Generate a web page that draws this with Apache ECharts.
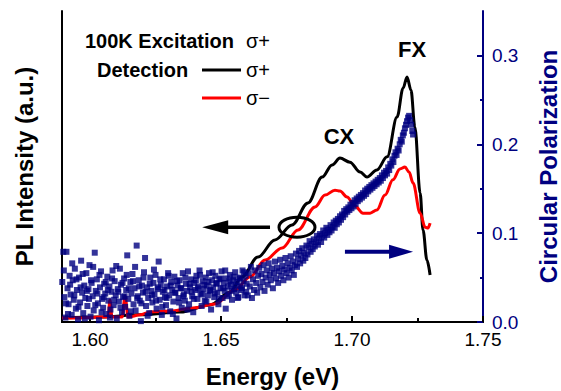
<!DOCTYPE html>
<html><head><meta charset="utf-8">
<script src="https://cdn.jsdelivr.net/npm/echarts@6/dist/echarts.min.js"></script>
<style>html,body{margin:0;padding:0;background:#fff}#c{width:561px;height:391px}</style>
</head><body><div id="c"></div>
<script>
// ---- data ----
const energyTicks = [1.60, 1.65, 1.70, 1.75];
const energyMinorTicks = [1.625, 1.675, 1.725];
const polTicks = [0.0, 0.1, 0.2, 0.3];
const polMinorTicks = [0.05, 0.15, 0.25];

const plusEnergy = [1.5893,1.6038,1.6191,1.6344,1.6458,1.6534,1.6580,1.6641,1.6706,1.6771,1.6832,1.6886,1.6924,1.6954,1.6992,1.7031,1.7057,1.7095,1.7134,1.7172,1.7195,1.7210,1.7225,1.7240,1.7260,1.7271,1.7286,1.7298];
const plusPL = [0.013,0.016,0.023,0.032,0.055,0.096,0.145,0.209,0.264,0.312,0.383,0.466,0.505,0.527,0.514,0.482,0.466,0.489,0.531,0.659,0.752,0.788,0.746,0.627,0.415,0.296,0.199,0.151];

const minusEnergy = [1.5893,1.5962,1.6038,1.6069,1.6076,1.6084,1.6122,1.6134,1.6145,1.6191,1.6229,1.6305,1.6393,1.6477,1.6553,1.6611,1.6668,1.6733,1.6794,1.6859,1.6897,1.6935,1.6954,1.6981,1.7011,1.7042,1.7069,1.7095,1.7126,1.7156,1.7183,1.7202,1.7218,1.7233,1.7260,1.7279,1.7290,1.7298];
const minusPL = [0.013,0.013,0.016,0.016,0.071,0.016,0.016,0.084,0.016,0.023,0.032,0.035,0.045,0.058,0.103,0.145,0.199,0.238,0.296,0.370,0.408,0.424,0.421,0.402,0.373,0.350,0.350,0.360,0.408,0.457,0.492,0.498,0.482,0.447,0.350,0.305,0.302,0.318];

const polEnergy = [
1.5894,1.5898,1.5902,1.5906,1.5910,1.5914,1.5918,1.5922,1.5926,1.5930,
1.5934,1.5938,1.5942,1.5946,1.5950,1.5954,1.5958,1.5962,1.5966,1.5970,
1.5974,1.5978,1.5982,1.5986,1.5990,1.5994,1.5998,1.6002,1.6006,1.6010,
1.6014,1.6018,1.6022,1.6026,1.6030,1.6034,1.6038,1.6042,1.6046,1.6050,
1.6054,1.6058,1.6062,1.6066,1.6070,1.6074,1.6078,1.6082,1.6086,1.6090,
1.6094,1.6098,1.6102,1.6106,1.6110,1.6114,1.6118,1.6122,1.6126,1.6130,
1.6134,1.6138,1.6142,1.6146,1.6150,1.6154,1.6158,1.6162,1.6166,1.6170,
1.6174,1.6178,1.6182,1.6186,1.6190,1.6194,1.6198,1.6202,1.6206,1.6210,
1.6214,1.6218,1.6222,1.6226,1.6230,1.6234,1.6238,1.6242,1.6246,1.6250,
1.6254,1.6258,1.6262,1.6266,1.6270,1.6274,1.6278,1.6282,1.6286,1.6290,
1.6294,1.6298,1.6302,1.6306,1.6310,1.6314,1.6318,1.6322,1.6326,1.6330,
1.6334,1.6338,1.6342,1.6346,1.6350,1.6354,1.6358,1.6362,1.6366,1.6370,
1.6374,1.6378,1.6382,1.6386,1.6390,1.6394,1.6398,1.6402,1.6406,1.6410,
1.6414,1.6418,1.6422,1.6426,1.6430,1.6434,1.6438,1.6442,1.6446,1.6450,
1.6454,1.6458,1.6462,1.6466,1.6470,1.6474,1.6478,1.6482,1.6486,1.6490,
1.6494,1.6498,1.6502,1.6506,1.6510,1.6514,1.6518,1.6522,1.6526,1.6530,
1.6534,1.6538,1.6542,1.6546,1.6550,1.6554,1.6558,1.6562,1.6566,1.6570,
1.6574,1.6578,1.6582,1.6586,1.6590,1.6594,1.6598,
1.5900,1.5908,1.5916,1.5924,1.5932,1.5940,1.5948,1.5956,1.5964,1.5972,
1.5980,1.5988,1.5996,1.6004,1.6012,1.6020,1.6028,1.6036,1.6044,1.6052,
1.6060,1.6068,1.6076,1.6084,1.6092,1.6100,1.6108,1.6116,1.6124,1.6132,
1.6140,1.6148,1.6156,1.6164,1.6172,1.6180,1.6188,1.6196,1.6204,1.6212,
1.6220,1.6228,1.6236,1.6244,1.6252,1.6260,1.6268,1.6276,1.6284,1.6292,
1.6300,1.6308,1.6316,1.6324,1.6332,1.6340,1.6348,1.6356,1.6364,1.6372,
1.6380,1.6388,1.6396,1.6404,1.6412,1.6420,1.6428,1.6436,1.6444,1.6452,
1.6460,1.6468,1.6476,1.6484,1.6492,1.6500,1.6508,1.6516,1.6524,1.6532,
1.6540,1.6548,1.6556,1.6564,1.6572,1.6580,1.6588,1.6596,
1.6602,1.6606,1.6610,1.6614,1.6618,1.6622,1.6626,1.6630,1.6634,1.6638,
1.6642,1.6646,1.6650,1.6654,1.6658,1.6662,1.6666,1.6670,1.6674,1.6678,
1.6682,1.6686,1.6690,1.6694,1.6698,1.6702,1.6706,1.6710,1.6714,1.6718,
1.6722,1.6726,1.6730,1.6734,1.6738,1.6742,1.6746,1.6750,1.6754,1.6758,
1.6762,1.6766,1.6770,1.6774,1.6778,1.6782,1.6786,1.6790,1.6794,1.6798,
1.6802,1.6806,1.6810,1.6814,1.6818,1.6822,1.6826,1.6830,1.6834,1.6838,
1.6842,1.6846,1.6850,1.6854,1.6858,1.6862,1.6866,1.6870,1.6874,1.6878,
1.6882,1.6886,1.6890,1.6894,1.6898,1.6902,1.6906,1.6910,1.6914,1.6918,
1.6922,1.6926,1.6930,1.6934,1.6938,1.6942,1.6946,1.6950,1.6954,1.6958,
1.6962,1.6966,1.6970,1.6974,1.6978,1.6982,1.6986,1.6990,1.6994,1.6998,
1.7002,1.7006,1.7010,1.7014,1.7018,1.7022,1.7026,1.7030,1.7034,1.7038,
1.7042,1.7046,1.7050,1.7054,1.7058,1.7062,1.7066,1.7070,1.7074,1.7078,
1.7082,1.7086,1.7090,1.7094,1.7098,1.7102,1.7106,1.7110,1.7114,1.7118,
1.7122,1.7126,1.7130,1.7134,1.7138,1.7142,1.7146,1.7150,1.7154,1.7158,
1.7162,1.7166,1.7170,1.7174,1.7178,1.7182,1.7186,1.7190,1.7194,1.7198,
1.7202,1.7206,1.7210,1.7214,1.7218,1.7222,1.7226,1.7230,1.7233];
const polValue = [
.045,.079,.028,.005,.079,.038,.020,.052,.031,.008,
.047,.025,.060,.015,.036,.003,.050,.022,.069,.033,
.010,.041,.027,.055,.018,.037,.064,.006,.044,.029,
.013,.078,.035,.048,.021,.002,.039,.057,.026,.016,
.043,.032,.009,.051,.024,.040,.014,.034,.058,.019,
.046,.030,.004,.037,.023,.060,.042,.011,.028,.049,
.017,.036,.075,.026,.007,.045,.032,.054,.020,.038,
.013,.086,.029,.047,.024,.001,.041,.033,.056,.072,
.018,.039,.027,.010,.050,.035,.022,.044,.031,.053,
.015,.037,.068,.025,.042,.008,.034,.048,.028,.019,
.040,.055,.030,.012,.045,.036,.023,.051,.033,.004,
.041,.027,.047,.038,.016,.055,.031,.024,.043,.035,
.057,.020,.039,.048,.029,.011,.044,.036,.052,.026,
.040,.058,.032,.018,.046,.037,.024,.050,.041,.030,
.055,.035,.014,.047,.039,.028,.052,.043,.033,.020,
.048,.038,.057,.027,.044,.035,.015,.049,.040,.031,
.053,.042,.025,.047,.037,.056,.033,.045,.028,.050,
.040,.036,.058,.046,.030,.052,.043,
.058,.021,.009,.042,.066,.030,.048,.017,.039,.054,
.004,.035,.026,.047,.062,.019,.032,.053,.011,.028,
.045,.036,.005,.049,.025,.063,.034,.016,.044,.029,
.053,.038,.012,.046,.062,.027,.040,.021,.050,.034,
.007,.043,.030,.059,.024,.039,.048,.017,.036,.027,
.052,.041,.009,.033,.046,.022,.038,.029,.050,.014,
.043,.034,.026,.047,.038,.053,.031,.042,.023,.045,
.036,.056,.032,.044,.026,.049,.038,.058,.029,.046,
.035,.051,.041,.027,.049,.038,.056,.034,
.030,.055,.040,.062,.027,.048,.036,.058,.044,.033,
.052,.061,.039,.054,.045,.064,.035,.050,.058,.042,
.066,.053,.047,.060,.038,.055,.068,.049,.061,.044,
.057,.070,.052,.063,.047,.059,.072,.055,.066,.050,
.061,.074,.058,.068,.053,.064,.077,.062,.071,.080,
.066,.075,.083,.069,.078,.072,.086,.076,.084,.091,
.079,.088,.082,.093,.085,.090,.097,.087,.094,.099,
.090,.097,.103,.095,.100,.106,.098,.104,.101,.109,
.103,.107,.112,.106,.114,.110,.116,.112,.119,.115,
.121,.118,.125,.121,.127,.124,.129,.126,.132,.128,
.134,.130,.137,.133,.139,.136,.141,.138,.143,.140,
.145,.142,.148,.144,.150,.147,.152,.149,.154,.151,
.156,.153,.158,.155,.160,.157,.162,.159,.165,.162,
.168,.165,.170,.167,.174,.171,.178,.176,.183,.180,
.187,.191,.188,.195,.193,.200,.205,.203,.210,.213,
.218,.222,.226,.230,.232,.227,.222,.215,.211];

// ---- chart ----
const FONT = 'Liberation Sans, Arial, sans-serif';
const NAVY = '#000080';
const chart = echarts.init(document.getElementById('c'), null, {renderer: 'svg'});
const zip = (a, b) => a.map((v, i) => [v, b[i]]);
const XMIN = 1.5893, XMAX = 1.75;

chart.setOption({
  animation: false,
  backgroundColor: '#fff',
  grid: {left: 62, right: 78, top: 11, bottom: 69, containLabel: false, outerBoundsMode: 'none'},
  xAxis: [
    {type: 'value', position: 'bottom', min: XMIN, max: XMAX,
     axisLine: {show: true, lineStyle: {color: '#000', width: 2}},
     axisTick: {show: true, inside: true, length: 6, customValues: energyTicks, lineStyle: {color: '#000', width: 2}},
     axisLabel: {show: true, customValues: energyTicks, formatter: v => v.toFixed(2), color: '#000', fontSize: 19, fontFamily: FONT, margin: 8},
     splitLine: {show: false},
     name: 'Energy (eV)', nameLocation: 'middle', nameGap: 42,
     nameTextStyle: {fontSize: 24, fontWeight: 'bold', color: '#000', fontFamily: FONT}},
    {type: 'value', position: 'bottom', min: XMIN, max: XMAX,
     axisLine: {show: false},
     axisTick: {show: true, inside: true, length: 4, customValues: energyMinorTicks, lineStyle: {color: '#000', width: 2}},
     axisLabel: {show: false}, splitLine: {show: false}},
    {type: 'value', position: 'top', min: XMIN, max: XMAX,
     axisLine: {show: true, lineStyle: {color: '#000', width: 2}},
     axisTick: {show: false}, axisLabel: {show: false}, splitLine: {show: false}}
  ],
  yAxis: [
    {type: 'value', position: 'left', min: 0, max: 1,
     axisLine: {show: true, lineStyle: {color: '#000', width: 2}},
     axisTick: {show: false}, axisLabel: {show: false}, splitLine: {show: false},
     name: 'PL Intensity (a.u.)', nameLocation: 'middle', nameGap: 26, nameRotate: 90,
     nameTextStyle: {fontSize: 24, fontWeight: 'bold', color: '#000', fontFamily: FONT}},
    {type: 'value', position: 'right', min: 0, max: 0.35,
     axisLine: {show: true, lineStyle: {color: NAVY, width: 2}},
     axisTick: {show: true, inside: true, length: 6, customValues: polTicks, lineStyle: {color: NAVY, width: 2}},
     axisLabel: {show: true, customValues: polTicks, formatter: v => v.toFixed(1), color: NAVY, fontSize: 19, fontFamily: FONT, margin: 9},
     splitLine: {show: false},
     name: 'Circular Polarization', nameLocation: 'middle', nameGap: 53, nameRotate: 90,
     nameTextStyle: {fontSize: 24, fontWeight: 'bold', color: NAVY, fontFamily: FONT}},
    {type: 'value', position: 'right', min: 0, max: 0.35,
     axisLine: {show: false},
     axisTick: {show: true, inside: true, length: 3, customValues: polMinorTicks, lineStyle: {color: NAVY, width: 2}},
     axisLabel: {show: false}, splitLine: {show: false}}
  ],
  series: [
    {name: 'σ+', type: 'line', xAxisIndex: 0, yAxisIndex: 0,
     data: zip(plusEnergy, plusPL), showSymbol: false, smooth: 0.35, smoothMonotone: 'x',
     lineStyle: {color: '#000', width: 3}, z: 2},
    {name: 'σ−', type: 'line', xAxisIndex: 0, yAxisIndex: 0,
     data: zip(minusEnergy, minusPL), showSymbol: false, smooth: 0.35, smoothMonotone: 'x',
     lineStyle: {color: '#ff0000', width: 3}, z: 3},
    {name: 'Polarization', type: 'scatter', xAxisIndex: 0, yAxisIndex: 1,
     data: zip(polEnergy, polValue), symbol: 'rect', symbolSize: 6,
     itemStyle: {color: NAVY}, z: 4, silent: true}
  ]
});

// ---- annotations (anchored to data coordinates) ----
const pl = (x, y) => chart.convertToPixel({seriesIndex: 0}, [x, y]);
const pol = (x, y) => chart.convertToPixel({seriesIndex: 2}, [x, y]);
const g = [];
function text(str, x, y, size, weight, color, align) {
  g.push({type: 'text', x: x, y: y, z: 100,
    style: {text: str, fontSize: size, fontWeight: weight, fill: color, fontFamily: FONT,
            align: align || 'left', verticalAlign: 'middle'}});
}
// legend block
text('100K Excitation', 85, 41, 20, 'bold', '#000');
text('σ+', 246, 41, 20, 'normal', '#000');
text('Detection', 97, 70, 20, 'bold', '#000');
g.push({type: 'line', z: 100, shape: {x1: 202, y1: 70, x2: 241, y2: 70}, style: {stroke: '#000', lineWidth: 3}});
text('σ+', 246, 70, 20, 'normal', '#000');
g.push({type: 'line', z: 100, shape: {x1: 202, y1: 98, x2: 241, y2: 98}, style: {stroke: '#ff0000', lineWidth: 3}});
text('σ−', 246, 98, 20, 'normal', '#000');
// peak labels
const cx = pl(1.6950, 0.595); text('CX', cx[0], cx[1], 22, 'bold', '#000', 'center');
const fx = pl(1.7229, 0.875); text('FX', fx[0], fx[1], 22, 'bold', '#000', 'center');
// black arrow pointing left
const a0 = pl(1.6687, 0.305), a1 = pl(1.6428, 0.305);
g.push({type: 'line', z: 100, shape: {x1: a0[0], y1: a0[1], x2: a1[0] + 20, y2: a1[1]}, style: {stroke: '#000', lineWidth: 3.5}});
g.push({type: 'polygon', z: 100, shape: {points: [[a1[0], a1[1]], [a1[0] + 26, a1[1] - 7], [a1[0] + 26, a1[1] + 7]]}, style: {fill: '#000'}});
// ellipse
const e = pl(1.6790, 0.305);
g.push({type: 'ellipse', z: 101, shape: {cx: e[0], cy: e[1], rx: 18, ry: 10}, style: {stroke: '#000', lineWidth: 3, fill: 'none'}});
// navy arrow pointing right
const b0 = pol(1.6973, 0.079), b1 = pol(1.7233, 0.079);
g.push({type: 'line', z: 100, shape: {x1: b0[0], y1: b0[1], x2: b1[0] - 18, y2: b1[1]}, style: {stroke: NAVY, lineWidth: 4}});
g.push({type: 'polygon', z: 100, shape: {points: [[b1[0], b1[1]], [b1[0] - 24, b1[1] - 7], [b1[0] - 24, b1[1] + 7]]}, style: {fill: NAVY}});

chart.setOption({graphic: {elements: g}});
</script>
</body></html>
